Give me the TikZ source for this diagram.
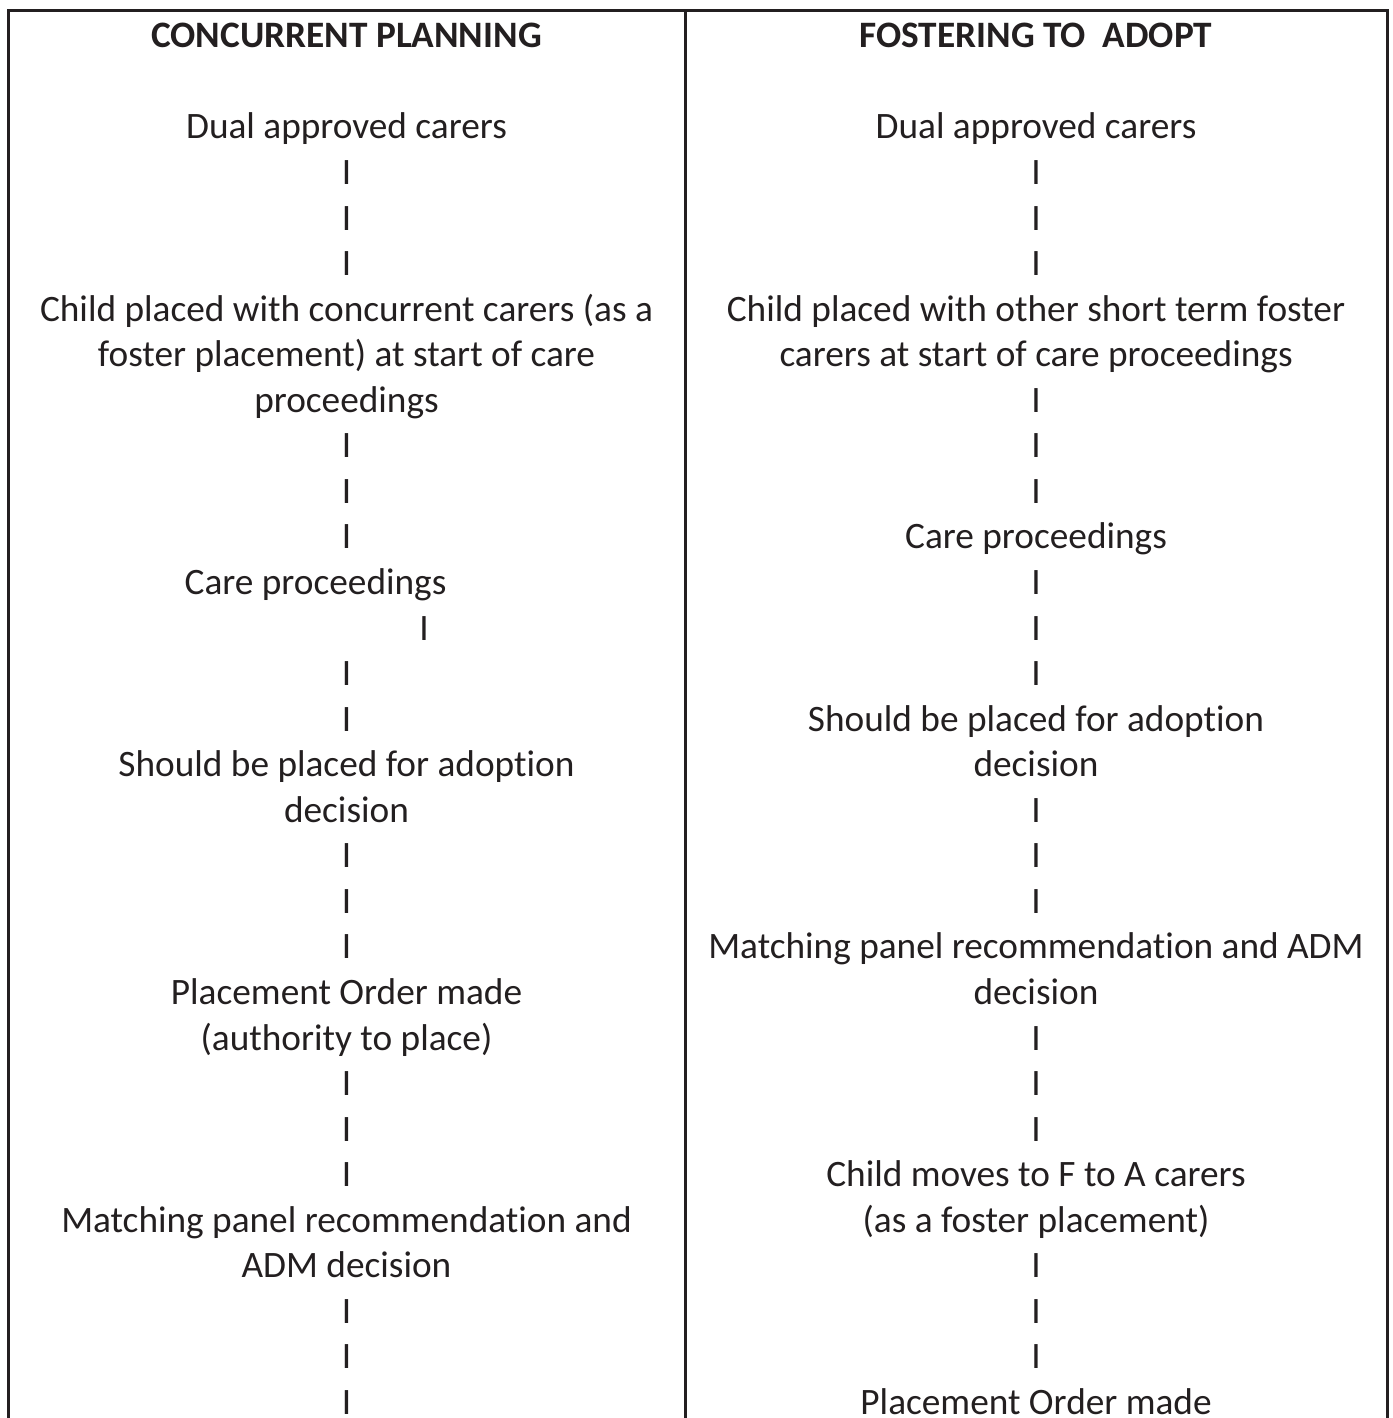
\documentclass[tikz,border=0pt]{standalone}
\usepackage{fontspec}
\setmainfont{Carlito}[RawFeature={-liga;-clig;-dlig;-calt}]
\definecolor{ink}{HTML}{231F20}
\begin{document}
\begin{tikzpicture}[x=0.5pt,y=-0.5pt,
  txt/.style={anchor=base,inner sep=0pt,text=ink,font=\fontsize{18.65}{22.8}\selectfont},
  head/.style={txt,font=\fontsize{18.65}{22.8}\selectfont\bfseries},
  bar/.style={txt},
  rule/.style={draw=ink,line width=1.5pt}]
\useasboundingbox (0,0) rectangle (1392,1418);
\def\L{346.5}
\def\R{1036}
% table rules
\draw[rule] (8,1418) -- (8,11) -- (1387,11) -- (1387,1418);
\draw[rule] (685,11) -- (685,1418);
% left column
\node[head] (lh) at (\L,47.9) {CONCURRENT PLANNING};
\node[txt] (l0) at (\L,{139+45.55*0}) {Dual approved carers};
\node[bar] (la1) at (\L,{139+45.55*1}) {I};
\node[bar] (la2) at (\L,{139+45.55*2}) {I};
\node[bar] (la3) at (\L,{139+45.55*3}) {I};
\node[txt] (l4) at (\L,{139+45.55*4}) {Child placed with concurrent carers (as a};
\node[txt] (l5) at (\L,{139+45.55*5}) {foster placement) at start of care};
\node[txt] (l6) at (\L,{139+45.55*6}) {proceedings};
\node[bar] (lb1) at (\L,{139+45.55*7}) {I};
\node[bar] (lb2) at (\L,{139+45.55*8}) {I};
\node[bar] (lb3) at (\L,{139+45.55*9}) {I};
\node[txt] (l10) at (315.5,{139+45.55*10}) {Care proceedings};
\node[bar] (lc1) at (424,{139+45.55*11}) {I};
\node[bar] (lc2) at (\L,{139+45.55*12}) {I};
\node[bar] (lc3) at (\L,{139+45.55*13}) {I};
\node[txt] (l14) at (\L,{139+45.55*14}) {Should be placed for adoption};
\node[txt] (l15) at (\L,{139+45.55*15}) {decision};
\node[bar] (ld1) at (\L,{139+45.55*16}) {I};
\node[bar] (ld2) at (\L,{139+45.55*17}) {I};
\node[bar] (ld3) at (\L,{139+45.55*18}) {I};
\node[txt] (l19) at (\L,{139+45.55*19}) {Placement Order made};
\node[txt] (l20) at (\L,{139+45.55*20}) {(authority to place)};
\node[bar] (le1) at (\L,{139+45.55*21}) {I};
\node[bar] (le2) at (\L,{139+45.55*22}) {I};
\node[bar] (le3) at (\L,{139+45.55*23}) {I};
\node[txt] (l24) at (\L,{139+45.55*24}) {Matching panel recommendation and};
\node[txt] (l25) at (\L,{139+45.55*25}) {ADM decision};
\node[bar] (lf1) at (\L,{139+45.55*26}) {I};
\node[bar] (lf2) at (\L,{139+45.55*27}) {I};
\node[bar] (lf3) at (\L,{139+45.55*28}) {I};
% right column
\node[head] (rh) at (\R,47.9) {FOSTERING TO\ \ ADOPT};
\node[txt] (r0) at (\R,{139+45.55*0}) {Dual approved carers};
\node[bar] (ra1) at (\R,{139+45.55*1}) {I};
\node[bar] (ra2) at (\R,{139+45.55*2}) {I};
\node[bar] (ra3) at (\R,{139+45.55*3}) {I};
\node[txt] (r4) at (\R,{139+45.55*4}) {Child placed with other short term foster};
\node[txt] (r5) at (\R,{139+45.55*5}) {carers at start of care proceedings};
\node[bar] (rb1) at (\R,{139+45.55*6}) {I};
\node[bar] (rb2) at (\R,{139+45.55*7}) {I};
\node[bar] (rb3) at (\R,{139+45.55*8}) {I};
\node[txt] (r9) at (\R,{139+45.55*9}) {Care proceedings};
\node[bar] (rc1) at (\R,{139+45.55*10}) {I};
\node[bar] (rc2) at (\R,{139+45.55*11}) {I};
\node[bar] (rc3) at (\R,{139+45.55*12}) {I};
\node[txt] (r13) at (\R,{139+45.55*13}) {Should be placed for adoption};
\node[txt] (r14) at (\R,{139+45.55*14}) {decision};
\node[bar] (rd1) at (\R,{139+45.55*15}) {I};
\node[bar] (rd2) at (\R,{139+45.55*16}) {I};
\node[bar] (rd3) at (\R,{139+45.55*17}) {I};
\node[txt] (r18) at (\R,{139+45.55*18}) {Matching panel recommendation and ADM};
\node[txt] (r19) at (\R,{139+45.55*19}) {decision};
\node[bar] (re1) at (\R,{139+45.55*20}) {I};
\node[bar] (re2) at (\R,{139+45.55*21}) {I};
\node[bar] (re3) at (\R,{139+45.55*22}) {I};
\node[txt] (r23) at (\R,{139+45.55*23}) {Child moves to F to A carers};
\node[txt] (r24) at (\R,{139+45.55*24}) {(as a foster placement)};
\node[bar] (rf1) at (\R,{139+45.55*25}) {I};
\node[bar] (rf2) at (\R,{139+45.55*26}) {I};
\node[bar] (rf3) at (\R,{139+45.55*27}) {I};
\node[txt] (r28) at (\R,{139+45.55*28}) {Placement Order made};
\end{tikzpicture}
\end{document}
